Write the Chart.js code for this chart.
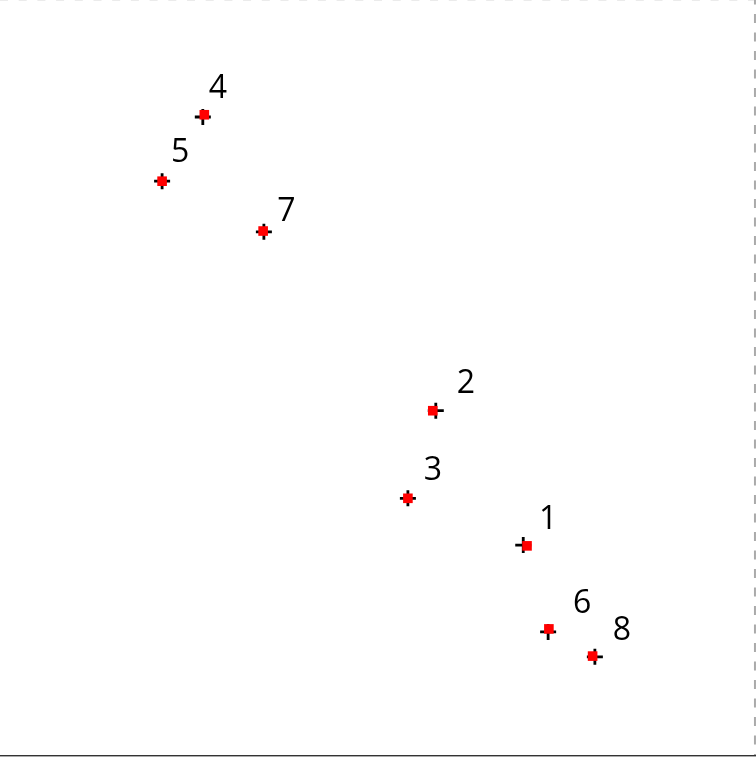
<!DOCTYPE html>
<html>
<head>
<meta charset="utf-8">
<script src="https://cdn.jsdelivr.net/npm/chart.js@4.4.1/dist/chart.umd.min.js"></script>
<style>
  html, body { margin: 0; padding: 0; background: #fff; }
  #wrap { width: 756px; height: 757px; position: relative; }
</style>
</head>
<body>
<div id="wrap"><canvas id="c" width="756" height="757"></canvas></div>
<script>
// Point labels
const labels = ['1', '2', '3', '4', '5', '6', '7', '8'];
// Observed values (black crosses)
const obsX = [69.4, 57.8, 54.1, 26.9, 21.5, 72.7, 35.0, 78.9];
const obsY = [27.8, 45.6, 34.0, 84.5, 76.0, 16.3, 69.3, 13.0];
// Fitted values (red squares)
const fitX = [69.9, 57.4, 54.1, 27.1, 21.5, 72.8, 34.9, 78.6];
const fitY = [27.7, 45.6, 34.0, 84.8, 76.0, 16.7, 69.4, 13.1];
// Label anchor positions (data units)
const labX = [72.7, 61.8, 57.4, 28.9, 23.9, 77.2, 38.0, 82.5];
const labY = [31.5, 49.5, 38.0, 88.5, 80.1, 20.3, 72.3, 16.8];
// Axis ranges
const xRange = [0, 100.27];
const yRange = [-0.265, 100.0];

const toPts = (xs, ys) => xs.map((x, i) => ({ x: x, y: ys[i] }));

const framePlugin = {
  id: 'frame',
  beforeDatasetsDraw(chart) {
    const { ctx, scales, width } = chart;
    const yb = Math.round(scales.y.getPixelForValue(0));
    const xr = scales.x.getPixelForValue(100);
    ctx.save();
    // bottom solid axis line
    ctx.fillStyle = '#333';
    ctx.fillRect(0, yb, width, 1);
    ctx.fillStyle = '#aaa';
    ctx.fillRect(0, yb + 1, width, 1);
    // right dashed line
    ctx.strokeStyle = '#aaa';
    ctx.lineWidth = 2;
    ctx.setLineDash([9, 9.5]);
    ctx.lineDashOffset = 4.5;
    ctx.beginPath();
    ctx.moveTo(xr + 1, 0);
    ctx.lineTo(xr + 1, yb);
    ctx.stroke();
    // top faint dashed line
    ctx.strokeStyle = '#ebebeb';
    ctx.lineWidth = 1;
    ctx.setLineDash([8, 10.7]);
    ctx.lineDashOffset = 0;
    ctx.beginPath();
    ctx.moveTo(0, 0.5);
    ctx.lineTo(xr, 0.5);
    ctx.stroke();
    ctx.restore();
  },
  afterDatasetsDraw(chart) {
    const { ctx, scales } = chart;
    ctx.save();
    ctx.font = '32px "Open Sans", "Liberation Sans", sans-serif';
    ctx.fillStyle = '#000';
    ctx.textAlign = 'center';
    ctx.textBaseline = 'alphabetic';
    labels.forEach((t, i) => {
      const px = scales.x.getPixelForValue(labX[i]);
      const py = scales.y.getPixelForValue(labY[i]);
      ctx.fillText(t, px, py + 11.5);
    });
    ctx.restore();
  }
};

new Chart(document.getElementById('c'), {
  type: 'scatter',
  data: {
    datasets: [
      {
        label: 'observed',
        data: toPts(obsX, obsY),
        pointStyle: 'cross',
        pointRadius: 8,
        pointBorderWidth: 2.8,
        borderColor: '#000',
        backgroundColor: '#000',
        order: 2
      },
      {
        label: 'fitted',
        data: toPts(fitX, fitY),
        pointStyle: 'rect',
        pointRadius: 6.8,
        pointBorderWidth: 0,
        borderColor: '#ff0000',
        backgroundColor: '#ff0000',
        order: 1
      }
    ]
  },
  options: {
    responsive: false,
    animation: false,
    devicePixelRatio: 1,
    layout: { padding: 0, autoPadding: false },
    plugins: { legend: { display: false }, tooltip: { enabled: false } },
    scales: {
      x: { type: 'linear', display: false, min: xRange[0], max: xRange[1] },
      y: { type: 'linear', display: false, min: yRange[0], max: yRange[1] }
    }
  },
  plugins: [framePlugin]
});
</script>
</body>
</html>
